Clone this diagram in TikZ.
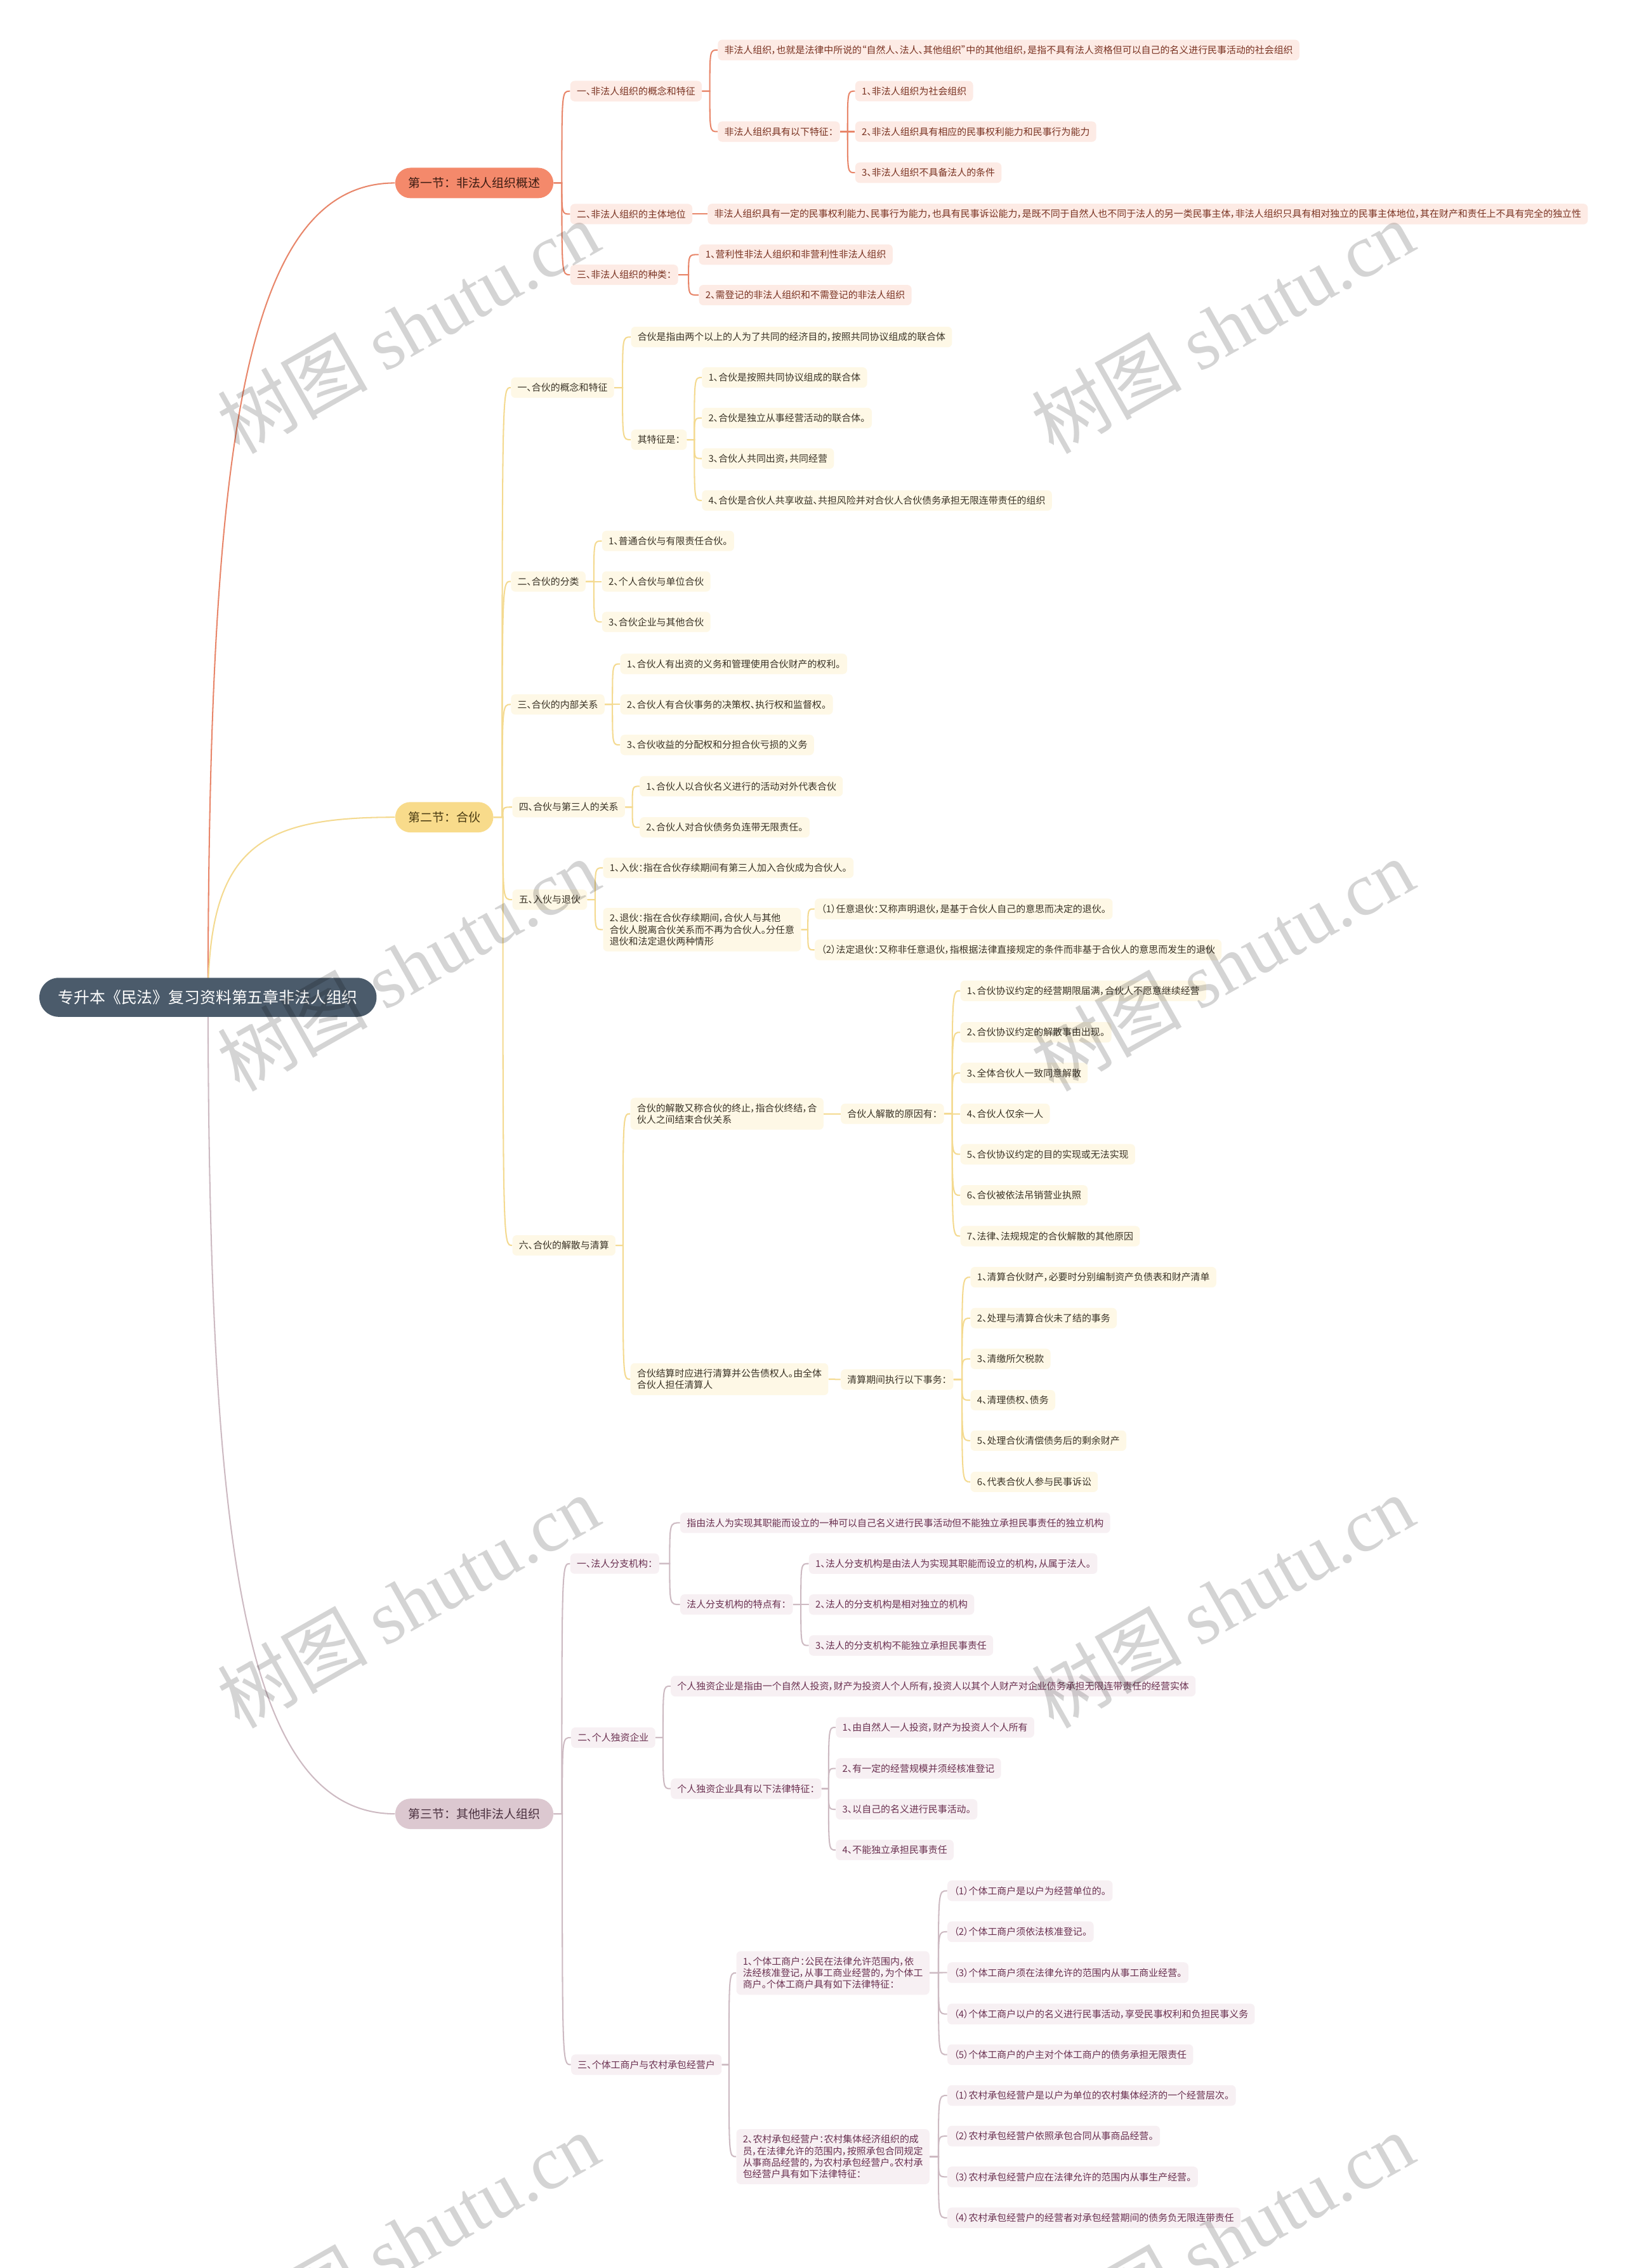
\documentclass[tikz,border=0pt]{standalone}
\usepackage{fontspec}
\setmainfont{Noto Sans CJK SC}[RawFeature=+palt]
\newfontfamily\fullfont{Noto Sans CJK SC}
\newfontfamily\wmfont{Liberation Serif}
\usetikzlibrary{calc, backgrounds}

\definecolor{rootfill}{HTML}{4B5B6B}
\definecolor{sonefill}{HTML}{F4896B}
\definecolor{sonehead}{HTML}{3B1B12}
\definecolor{sonebox}{HTML}{FDEBE5}
\definecolor{sonetext}{HTML}{7A3322}
\definecolor{soneline}{HTML}{E8866A}
\definecolor{stwofill}{HTML}{F8DB8B}
\definecolor{stwohead}{HTML}{4A3B12}
\definecolor{stwobox}{HTML}{FEF8E6}
\definecolor{stwotext}{HTML}{3A3326}
\definecolor{stwoline}{HTML}{F4DA90}
\definecolor{sthreefill}{HTML}{DCC8D0}
\definecolor{sthreehead}{HTML}{4B3140}
\definecolor{sthreebox}{HTML}{F7F0F3}
\definecolor{sthreetext}{HTML}{6A3050}
\definecolor{sthreeline}{HTML}{CDBAC2}

\begin{document}
\begin{tikzpicture}[
    x=1pt, y=-1pt,
    rootnode/.style={fill=rootfill, text=white, rounded corners=13.5pt, minimum height=27pt, inner xsep=13pt, inner ysep=0pt, anchor=west, font=\fullfont\fontsize{10.9}{13}\selectfont},
    secnode/.style={rounded corners=10.5pt, minimum height=21pt, inner xsep=9pt, inner ysep=0pt, anchor=west, font=\fullfont\fontsize{8.3}{10}\selectfont},
    leafbox/.style={rounded corners=3pt, minimum height=14pt, inner xsep=4.5pt, inner ysep=4pt, anchor=west, align=left, font=\fontsize{6.55}{8}\selectfont},
    oneleaf/.style={leafbox, fill=sonebox, text=sonetext},
    twoleaf/.style={leafbox, fill=stwobox, text=stwotext},
    threeleaf/.style={leafbox, fill=sthreebox, text=sthreetext},
    oneline/.style={draw=soneline, line width=0.9pt},
    twoline/.style={draw=stwoline, line width=0.9pt},
    threeline/.style={draw=sthreeline, line width=0.9pt},
    link/.style={to path={let \p1=(\tikztostart), \p2=(\tikztotarget) in
        -- ({0.5*\x1+0.5*\x2},\y1) .. controls ({0.5*\x1+0.5*\x2},\y2) and ({0.5*\x1+0.5*\x2},\y2) .. (\tikztotarget)}},
    watermark/.style={rotate=29.5, text=black, text opacity=0.17, font=\fontsize{52}{52}\selectfont}
]
\useasboundingbox (0,0) rectangle (1123,1568);

% root
\node[rootnode] (root) at (27,689.5) {专升本《民法》复习资料第五章非法人组织};

% section one
\node[secnode, fill=sonefill, text=sonehead] (s1) at (273,126.5) {第一节：非法人组织概述};
\node[oneleaf] (a1) at (394,63) {一、非法人组织的概念和特征};
\node[oneleaf] (a1x) at (496,34.6) {非法人组织，也就是法律中所说的“自然人、法人、其他组织”中的其他组织，是指不具有法人资格但可以自己的名义进行民事活动的社会组织};
\node[oneleaf] (a1y) at (496,91) {非法人组织具有以下特征：};
\node[oneleaf] (a1y1) at (591,63) {1、非法人组织为社会组织};
\node[oneleaf] (a1y2) at (591,91) {2、非法人组织具有相应的民事权利能力和民事行为能力};
\node[oneleaf] (a1y3) at (591,119.4) {3、非法人组织不具备法人的条件};
\node[oneleaf] (a2) at (394,148) {二、非法人组织的主体地位};
\node[oneleaf] (a2x) at (489,148) {非法人组织具有一定的民事权利能力、民事行为能力，也具有民事诉讼能力，是既不同于自然人也不同于法人的另一类民事主体，非法人组织只具有相对独立的民事主体地位，其在财产和责任上不具有完全的独立性};
\node[oneleaf] (a3) at (394,190) {三、非法人组织的种类：};
\node[oneleaf] (a3x) at (483,176) {1、营利性非法人组织和非营利性非法人组织};
\node[oneleaf] (a3y) at (483,204) {2、需登记的非法人组织和不需登记的非法人组织};

% section two
\node[secnode, fill=stwofill, text=stwohead] (s2) at (273,565) {第二节：合伙};
\node[twoleaf] (b1) at (353,268) {一、合伙的概念和特征};
\node[twoleaf] (b1x) at (436,233) {合伙是指由两个以上的人为了共同的经济目的，按照共同协议组成的联合体};
\node[twoleaf] (b1y) at (436,304) {其特征是：};
\node[twoleaf] (b1y1) at (485,261) {1、合伙是按照共同协议组成的联合体};
\node[twoleaf] (b1y2) at (485,289) {2、合伙是独立从事经营活动的联合体。};
\node[twoleaf] (b1y3) at (485,317) {3、合伙人共同出资，共同经营};
\node[twoleaf] (b1y4) at (485,346) {4、合伙是合伙人共享收益、共担风险并对合伙人合伙债务承担无限连带责任的组织};
\node[twoleaf] (b2) at (353,402) {二、合伙的分类};
\node[twoleaf] (b2a) at (416,374) {1、普通合伙与有限责任合伙。};
\node[twoleaf] (b2b) at (416,402) {2、个人合伙与单位合伙};
\node[twoleaf] (b2c) at (416,430) {3、合伙企业与其他合伙};
\node[twoleaf] (b3) at (353,487) {三、合伙的内部关系};
\node[twoleaf] (b3a) at (428.6,459) {1、合伙人有出资的义务和管理使用合伙财产的权利。};
\node[twoleaf] (b3b) at (428.6,487) {2、合伙人有合伙事务的决策权、执行权和监督权。};
\node[twoleaf] (b3c) at (428.6,515) {3、合伙收益的分配权和分担合伙亏损的义务};
\node[twoleaf] (b4) at (354,558) {四、合伙与第三人的关系};
\node[twoleaf] (b4a) at (442,543.6) {1、合伙人以合伙名义进行的活动对外代表合伙};
\node[twoleaf] (b4b) at (442,572) {2、合伙人对合伙债务负连带无限责任。};
\node[twoleaf] (b5) at (354,622) {五、入伙与退伙};
\node[twoleaf] (b5a) at (416.7,600) {1、入伙：指在合伙存续期间有第三人加入合伙成为合伙人。};
\node[twoleaf] (b5b) at (416.7,642.7) {2、退伙：指在合伙存续期间，合伙人与其他\\合伙人脱离合伙关系而不再为合伙人。分任意\\退伙和法定退伙两种情形};
\node[twoleaf] (b5b1) at (563,628.4) {（1）任意退伙：又称声明退伙，是基于合伙人自己的意思而决定的退伙。};
\node[twoleaf] (b5b2) at (563,656.7) {（2）法定退伙：又称非任意退伙，指根据法律直接规定的条件而非基于合伙人的意思而发生的退伙};
\node[twoleaf] (b6) at (354,861) {六、合伙的解散与清算};
\node[twoleaf] (b6x) at (435.6,770) {合伙的解散又称合伙的终止，指合伙终结，合\\伙人之间结束合伙关系};
\node[twoleaf] (b6xr) at (581,770) {合伙人解散的原因有：};
\node[twoleaf] (r1) at (663.7,685) {1、合伙协议约定的经营期限届满，合伙人不愿意继续经营};
\node[twoleaf] (r2) at (663.7,713.7) {2、合伙协议约定的解散事由出现。};
\node[twoleaf] (r3) at (663.7,741.8) {3、全体合伙人一致同意解散};
\node[twoleaf] (r4) at (663.7,770) {4、合伙人仅余一人};
\node[twoleaf] (r5) at (663.7,798) {5、合伙协议约定的目的实现或无法实现};
\node[twoleaf] (r6) at (663.7,826.4) {6、合伙被依法吊销营业执照};
\node[twoleaf] (r7) at (663.7,854.6) {7、法律、法规规定的合伙解散的其他原因};
\node[twoleaf] (b6y) at (435.6,953.5) {合伙结算时应进行清算并公告债权人。由全体\\合伙人担任清算人};
\node[twoleaf] (b6yq) at (581,953.7) {清算期间执行以下事务：};
\node[twoleaf] (q1) at (670.7,883) {1、清算合伙财产，必要时分别编制资产负债表和财产清单};
\node[twoleaf] (q2) at (670.7,911.3) {2、处理与清算合伙未了结的事务};
\node[twoleaf] (q3) at (670.7,939.5) {3、清缴所欠税款};
\node[twoleaf] (q4) at (670.7,968) {4、清理债权、债务};
\node[twoleaf] (q5) at (670.7,996) {5、处理合伙清偿债务后的剩余财产};
\node[twoleaf] (q6) at (670.7,1024.5) {6、代表合伙人参与民事诉讼};

% section three
\node[secnode, fill=sthreefill, text=sthreehead] (s3) at (273,1254) {第三节：其他非法人组织};
\node[threeleaf] (c1) at (394,1081) {一、法人分支机构：};
\node[threeleaf] (c1x) at (470,1052.8) {指由法人为实现其职能而设立的一种可以自己名义进行民事活动但不能独立承担民事责任的独立机构};
\node[threeleaf] (c1y) at (470,1109.3) {法人分支机构的特点有：};
\node[threeleaf] (c1y1) at (559,1081) {1、法人分支机构是由法人为实现其职能而设立的机构，从属于法人。};
\node[threeleaf] (c1y2) at (559,1109.3) {2、法人的分支机构是相对独立的机构};
\node[threeleaf] (c1y3) at (559,1137.6) {3、法人的分支机构不能独立承担民事责任};
\node[threeleaf] (c2) at (394.6,1201.3) {二、个人独资企业};
\node[threeleaf] (c2x) at (463.5,1165.7) {个人独资企业是指由一个自然人投资，财产为投资人个人所有，投资人以其个人财产对企业债务承担无限连带责任的经营实体};
\node[threeleaf] (c2y) at (463.5,1236.6) {个人独资企业具有以下法律特征：};
\node[threeleaf] (c2y1) at (577.6,1194.2) {1、由自然人一人投资，财产为投资人个人所有};
\node[threeleaf] (c2y2) at (577.6,1222.6) {2、有一定的经营规模并须经核准登记};
\node[threeleaf] (c2y3) at (577.6,1250.9) {3、以自己的名义进行民事活动。};
\node[threeleaf] (c2y4) at (577.6,1279) {4、不能独立承担民事责任};
\node[threeleaf] (c3) at (394.6,1427.4) {三、个体工商户与农村承包经营户};
\node[threeleaf] (c3x) at (508.8,1364) {1、个体工商户：公民在法律允许范围内，依\\法经核准登记，从事工商业经营的，为个体工\\商户。个体工商户具有如下法律特征：};
\node[threeleaf] (c3x1) at (654.7,1307.2) {（1）个体工商户是以户为经营单位的。};
\node[threeleaf] (c3x2) at (654.7,1335.5) {（2）个体工商户须依法核准登记。};
\node[threeleaf] (c3x3) at (654.7,1363.8) {（3）个体工商户须在法律允许的范围内从事工商业经营。};
\node[threeleaf] (c3x4) at (654.7,1392.4) {（4）个体工商户以户的名义进行民事活动，享受民事权利和负担民事义务};
\node[threeleaf] (c3x5) at (654.7,1420.5) {（5）个体工商户的户主对个体工商户的债务承担无限责任};
\node[threeleaf] (c3y) at (508.8,1491) {2、农村承包经营户：农村集体经济组织的成\\员，在法律允许的范围内，按照承包合同规定\\从事商品经营的，为农村承包经营户。农村承\\包经营户具有如下法律特征：};
\node[threeleaf] (c3y1) at (654.7,1448.7) {（1）农村承包经营户是以户为单位的农村集体经济的一个经营层次。};
\node[threeleaf] (c3y2) at (654.7,1476.8) {（2）农村承包经营户依照承包合同从事商品经营。};
\node[threeleaf] (c3y3) at (654.7,1505) {（3）农村承包经营户应在法律允许的范围内从事生产经营。};
\node[threeleaf] (c3y4) at (654.7,1533.3) {（4）农村承包经营户的经营者对承包经营期间的债务负无限连带责任};

% connectors behind the boxes
\begin{scope}[on background layer]
    \fill[white] (0,0) rectangle (1123,1568);
    \draw[oneline] (root.center) .. controls (144.5,323.5) and (165,126.5) .. (s1.west);
    \draw[twoline] (root.center) .. controls (144.5,585) and (180,565) .. (s2.west);
    \draw[threeline] (root.center) .. controls (144.5,1056) and (165,1254) .. (s3.west);

    \foreach \c in {a1,a2,a3} \draw[oneline] (s1.east) to[link] (\c.west);
    \foreach \c in {a1x,a1y} \draw[oneline] (a1.east) to[link] (\c.west);
    \foreach \c in {a1y1,a1y2,a1y3} \draw[oneline] (a1y.east) to[link] (\c.west);
    \draw[oneline] (a2.east) to[link] (a2x.west);
    \foreach \c in {a3x,a3y} \draw[oneline] (a3.east) to[link] (\c.west);

    \foreach \c in {b1,b2,b3,b4,b5,b6} \draw[twoline] (s2.east) to[link] (\c.west);
    \foreach \c in {b1x,b1y} \draw[twoline] (b1.east) to[link] (\c.west);
    \foreach \c in {b1y1,b1y2,b1y3,b1y4} \draw[twoline] (b1y.east) to[link] (\c.west);
    \foreach \c in {b2a,b2b,b2c} \draw[twoline] (b2.east) to[link] (\c.west);
    \foreach \c in {b3a,b3b,b3c} \draw[twoline] (b3.east) to[link] (\c.west);
    \foreach \c in {b4a,b4b} \draw[twoline] (b4.east) to[link] (\c.west);
    \foreach \c in {b5a,b5b} \draw[twoline] (b5.east) to[link] (\c.west);
    \foreach \c in {b5b1,b5b2} \draw[twoline] (b5b.east) to[link] (\c.west);
    \foreach \c in {b6x,b6y} \draw[twoline] (b6.east) to[link] (\c.west);
    \draw[twoline] (b6x.east) to[link] (b6xr.west);
    \foreach \c in {r1,r2,r3,r4,r5,r6,r7} \draw[twoline] (b6xr.east) to[link] (\c.west);
    \draw[twoline] (b6y.east) to[link] (b6yq.west);
    \foreach \c in {q1,q2,q3,q4,q5,q6} \draw[twoline] (b6yq.east) to[link] (\c.west);

    \foreach \c in {c1,c2,c3} \draw[threeline] (s3.east) to[link] (\c.west);
    \foreach \c in {c1x,c1y} \draw[threeline] (c1.east) to[link] (\c.west);
    \foreach \c in {c1y1,c1y2,c1y3} \draw[threeline] (c1y.east) to[link] (\c.west);
    \foreach \c in {c2x,c2y} \draw[threeline] (c2.east) to[link] (\c.west);
    \foreach \c in {c2y1,c2y2,c2y3,c2y4} \draw[threeline] (c2y.east) to[link] (\c.west);
    \foreach \c in {c3x,c3y} \draw[threeline] (c3.east) to[link] (\c.west);
    \foreach \c in {c3x1,c3x2,c3x3,c3x4,c3x5} \draw[threeline] (c3x.east) to[link] (\c.west);
    \foreach \c in {c3y1,c3y2,c3y3,c3y4} \draw[threeline] (c3y.east) to[link] (\c.west);
\end{scope}

% watermarks
\foreach \wx in {282,845}
    \foreach \wy in {226,667,1107,1548}
        \node[watermark] (wm-\wx-\wy) at (\wx,\wy) {树图 {\wmfont shutu.cn}};

\end{tikzpicture}
\end{document}
